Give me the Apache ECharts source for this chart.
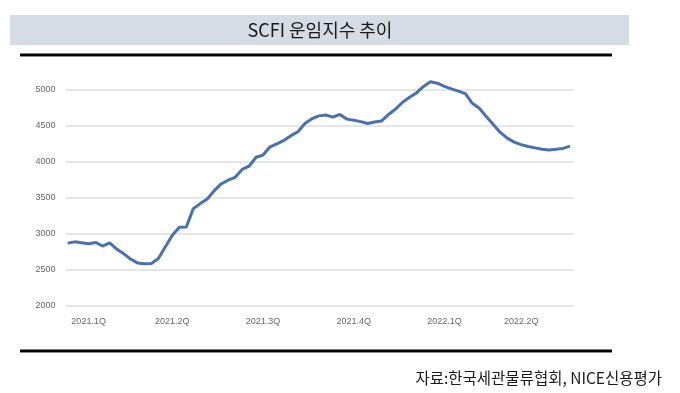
<!DOCTYPE html>
<html>
<head>
<meta charset="utf-8">
<script src="https://cdn.jsdelivr.net/npm/echarts@6/dist/echarts.min.js"></script>
<style>
html,body{margin:0;padding:0;background:#fff;}
#c{width:680px;height:393px;}
</style>
</head>
<body>
<div id="c"></div>
<script>
const titleText = 'SCFI 운임지수 추이';
const sourceText = '자료:한국세관물류협회, NICE신용평가';
const quarterLabels = ['2021.1Q','2021.2Q','2021.3Q','2021.4Q','2022.1Q','2022.2Q'];
const quarterIndex = [3, 15, 28, 41, 54, 65];
const yTicks = [2000, 2500, 3000, 3500, 4000, 4500, 5000];
const scfiValues = [
  2870, 2888, 2875, 2862, 2880, 2830, 2874, 2790, 2725, 2650,
  2595, 2585, 2588, 2655, 2820, 2980, 3090, 3095, 3350, 3420,
  3485, 3600, 3695, 3745, 3785, 3895, 3940, 4065, 4095, 4210,
  4250, 4300, 4365, 4420, 4535, 4600, 4640, 4652, 4622, 4660,
  4595, 4580, 4560, 4535, 4555, 4570, 4660, 4735, 4830, 4900,
  4960, 5050, 5115, 5095, 5050, 5015, 4985, 4950, 4815, 4745,
  4630, 4520, 4410, 4330, 4275, 4240, 4215, 4195, 4175, 4165,
  4175, 4188, 4220
];
const categories = scfiValues.map((v, i) => {
  const k = quarterIndex.indexOf(i);
  return k >= 0 ? quarterLabels[k] : '';
});

const chart = echarts.init(document.getElementById('c'), null, {renderer: 'canvas'});
const yMin = yTicks[0], yMax = yTicks[yTicks.length - 1], yStep = yTicks[1] - yTicks[0];
chart.setOption({
  animation: false,
  backgroundColor: '#ffffff',
  grid: [
    {left: 65.5, right: 107, top: 90, bottom: 87.3},
    {left: 67.7, right: 110, top: 90, bottom: 87.3}
  ],
  xAxis: [
    {gridIndex: 0, type: 'category', data: categories, show: false, boundaryGap: false},
    {gridIndex: 1, type: 'category', data: categories, boundaryGap: false,
     axisLine: {show: false}, axisTick: {show: false},
     axisLabel: {interval: 0, margin: 11, fontSize: 9, color: '#666666', fontFamily: 'Liberation Sans'}}
  ],
  yAxis: [
    {gridIndex: 0, type: 'value', min: yMin, max: yMax, interval: yStep,
     axisLine: {show: false}, axisTick: {show: false},
     axisLabel: {margin: 10, fontSize: 9, color: '#666666', fontFamily: 'Liberation Sans',
                 formatter: v => String(v)},
     splitLine: {lineStyle: {color: '#dedede', width: 1.5}}},
    {gridIndex: 1, type: 'value', min: yMin, max: yMax, interval: yStep, show: false,
     splitLine: {show: false}}
  ],
  series: [{
    type: 'line', xAxisIndex: 1, yAxisIndex: 1, data: scfiValues,
    symbol: 'none', smooth: false, clip: false,
    lineStyle: {color: '#4a70ad', width: 3}
  }],
  graphic: [
    {type: 'rect', shape: {x: 10, y: 15, width: 619, height: 30}, style: {fill: '#d6dce4'}},
    {type: 'text', x: 320, y: 30, style: {text: titleText, fill: '#1a1a1a', font: '18px "Noto Sans CJK KR"', align: 'center', verticalAlign: 'middle'}},
    {type: 'rect', shape: {x: 20, y: 53.5, width: 592, height: 2.5}, style: {fill: '#000000'}},
    {type: 'rect', shape: {x: 20, y: 56, width: 592, height: 1}, style: {fill: '#8c8c8c'}},
    {type: 'rect', shape: {x: 20, y: 349.5, width: 592, height: 2.5}, style: {fill: '#000000'}},
    {type: 'rect', shape: {x: 20, y: 352, width: 592, height: 1}, style: {fill: '#8c8c8c'}},
    {type: 'text', x: 662, y: 378, style: {text: sourceText, fill: '#1a1a1a', font: '15.5px "Noto Sans CJK KR"', align: 'right', verticalAlign: 'middle'}}
  ]
});
</script>
</body>
</html>
